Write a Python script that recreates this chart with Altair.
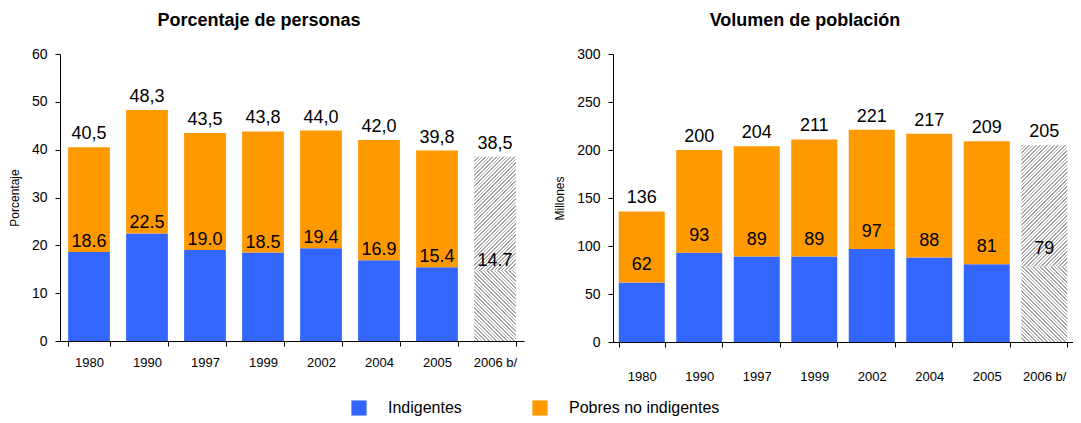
import math
import altair as alt
import pandas as pd

years = ["1980", "1990", "1997", "1999", "2002", "2004", "2005", "2006 b/"]

pct_indig = [18.6, 22.5, 19.0, 18.5, 19.4, 16.9, 15.4, 14.7]
pct_total = [40.5, 48.3, 43.5, 43.8, 44.0, 42.0, 39.8, 38.5]
pct_top_labels = ["40,5", "48,3", "43,5", "43,8", "44,0", "42,0", "39,8", "38,5"]
pct_bot_labels = ["18.6", "22.5", "19.0", "18.5", "19.4", "16.9", "15.4", "14.7"]

pop_indig = [62, 93, 89, 89, 97, 88, 81, 79]
pop_total = [136, 200, 204, 211, 221, 217, 209, 205]
pop_top_labels = ["136", "200", "204", "211", "221", "217", "209", "205"]
pop_bot_labels = ["62", "93", "89", "89", "97", "88", "81", "79"]

series = ["Indigentes", "Pobres no indigentes"]
colors = ["#3366FF", "#FF9900"]

FONT = "Liberation Sans"


def hatch(w, h, up=True, period=3.6, dark="#a8a8a8", light="#ffffff", frac=0.45):
    L = w + h
    s = L * h / (w * w + h * h)
    gx, gy = s * w / h, s
    n = L / period
    stops = []
    k = 0
    while k < n:
        a = min(k / n, 1.0)
        b = min((k + frac) / n, 1.0)
        c = min((k + 1) / n, 1.0)
        stops += [
            {"offset": a, "color": dark},
            {"offset": b, "color": dark},
            {"offset": b, "color": light},
            {"offset": c, "color": light},
        ]
        k += 1
    if up:
        x1, y1, x2, y2 = 0, 0, gx, gy
    else:
        x1, y1, x2, y2 = 0, 1, gx, 1 - gy
    return {"gradient": "linear", "x1": x1, "y1": y1, "x2": x2, "y2": y2, "stops": stops}


def panel(title, ytitle, indig, total, top_lbl, bot_lbl, ymax, ystep, W, H,
          pin, pout, xlabpad, bot_dy, title_dx, show_legend):
    n = len(years)
    rows = []
    for i, yr in enumerate(years[:-1]):
        rows.append({"year": yr, "serie": series[0], "lo": 0, "hi": indig[i]})
        rows.append({"year": yr, "serie": series[1], "lo": indig[i], "hi": total[i]})
    df = pd.DataFrame(rows)
    lab = pd.DataFrame({"year": years, "indig": indig, "total": total,
                        "tl": top_lbl, "bl": bot_lbl})

    xscale = alt.Scale(domain=years, paddingInner=pin, paddingOuter=pout)
    yscale = alt.Scale(domain=[0, ymax], nice=False, zero=True)
    xaxis = alt.Axis(title=None, labelAngle=0, tickBand="extent", tickSize=5,
                     labelPadding=xlabpad, labelFontSize=13)
    yaxis = alt.Axis(title=ytitle, values=list(range(0, ymax + 1, ystep)),
                     tickSize=5, labelPadding=8, labelFontSize=14,
                     titleFontSize=12, titleFontWeight="normal", titlePadding=10)

    legend = alt.Legend(orient="none", legendX=291, legendY=346, direction="horizontal",
                        title=None, symbolType="square", symbolSize=230,
                        symbolStrokeWidth=0, labelFontSize=16, labelOffset=21,
                        columnPadding=70, padding=0, labelFont=FONT) if show_legend else None

    bars = alt.Chart(df).mark_bar().encode(
        x=alt.X("year:N", scale=xscale, axis=xaxis, sort=years),
        y=alt.Y("lo:Q", scale=yscale, axis=yaxis),
        y2="hi:Q",
        color=alt.Color("serie:N", scale=alt.Scale(domain=series, range=colors),
                        legend=legend),
    )

    step = W / (n - pin + 2 * pout)
    bw = step * (1 - pin)
    h_bot = indig[-1] / ymax * H
    h_top = (total[-1] - indig[-1]) / ymax * H
    last = years[-1]
    hb = alt.Chart(pd.DataFrame([{"year": last, "lo": 0, "hi": indig[-1]}])).mark_bar(
        fill=hatch(bw, h_bot, up=False)).encode(
        x=alt.X("year:N", sort=years), y="lo:Q", y2="hi:Q")
    ht = alt.Chart(pd.DataFrame([{"year": last, "lo": indig[-1], "hi": total[-1]}])).mark_bar(
        fill=hatch(bw, h_top, up=True)).encode(
        x=alt.X("year:N", sort=years), y="lo:Q", y2="hi:Q")

    tt = alt.Chart(lab).mark_text(baseline="bottom", dy=-4, fontSize=18, font=FONT,
                                  color="black").encode(
        x=alt.X("year:N", sort=years), y="total:Q", text="tl:N")
    bt = alt.Chart(lab).mark_text(baseline="bottom", dy=bot_dy, fontSize=18, font=FONT,
                                  color="black").encode(
        x=alt.X("year:N", sort=years), y="indig:Q", text="bl:N")

    return alt.layer(bars, hb, ht, tt, bt).properties(
        width=W, height=H,
        title=alt.TitleParams(title, fontSize=18, fontWeight="bold", font=FONT,
                              color="black", dx=title_dx, offset=17),
    )


left = panel("Porcentaje de personas", "Porcentaje", pct_indig, pct_total,
             pct_top_labels, pct_bot_labels, 60, 10, 464, 287,
             0.28, 0.14, 10, -1, -33, True)
right = panel("Volumen de población", "Millones", pop_indig, pop_total,
              pop_top_labels, pop_bot_labels, 300, 50, 460, 288,
              0.2, 0.1, 23, -8, -38, False)

chart = alt.hconcat(left, right, spacing=29).properties(
    padding={"left": 0, "top": 4, "right": 0, "bottom": 0}
).configure_view(stroke=None).configure_axis(
    domainColor="black", tickColor="black", labelColor="black", titleColor="black",
    labelFont=FONT, titleFont=FONT, grid=False
).configure_legend(labelColor="black")

chart.save("out.html", embed_options={"renderer": "svg", "actions": False})
